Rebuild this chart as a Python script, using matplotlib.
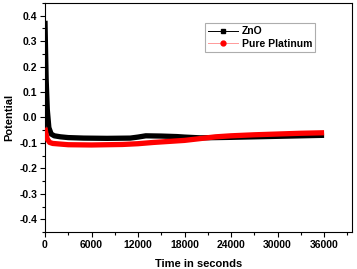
import matplotlib
matplotlib.use("Agg")
import matplotlib.pyplot as plt
from matplotlib.lines import Line2D
from matplotlib.ticker import MultipleLocator

plt.rcParams['font.family'] = ['Liberation Sans', 'DejaVu Sans']

zno_t = [0, 50, 150, 300, 500, 800, 1200, 2000, 3000, 5000, 8000, 11000, 12000, 13000,
         15000, 17000, 18000, 20000, 22000, 24000, 27000, 30000, 33000, 36000]
zno_v = [0.38, 0.30, 0.15, 0.03, -0.04, -0.065, -0.072, -0.076, -0.079, -0.081, -0.082, -0.081,
         -0.077, -0.072, -0.073, -0.075, -0.077, -0.080, -0.079, -0.078, -0.076, -0.074, -0.072, -0.070]
pt_t = [0, 100, 300, 600, 1000, 3000, 6000, 10000, 12000, 14000, 16000, 18000, 20000, 22000,
        24000, 27000, 30000, 33000, 36000]
pt_v = [-0.04, -0.06, -0.085, -0.098, -0.102, -0.107, -0.108, -0.106, -0.103, -0.098, -0.094, -0.090,
        -0.083, -0.076, -0.072, -0.068, -0.065, -0.062, -0.060]

fig = plt.figure(figsize=(3.57, 2.69), dpi=100)
ax = fig.add_axes([0.126, 0.1375, 0.86, 0.8515])

ax.plot(zno_t, zno_v, color='black', lw=3.8, solid_capstyle='butt', zorder=2)
ax.plot(pt_t, pt_v, color='red', lw=3.8, solid_capstyle='butt', zorder=3)

ax.set_xlim(0, 39600)
ax.set_ylim(-0.45, 0.45)
ax.xaxis.set_major_locator(MultipleLocator(6000))
ax.xaxis.set_minor_locator(MultipleLocator(3000))
ax.yaxis.set_major_locator(MultipleLocator(0.1))
ax.yaxis.set_minor_locator(MultipleLocator(0.05))
ax.tick_params(which='both', direction='out', top=False, right=False, labelsize=7.5, pad=2)
ax.tick_params(which='major', length=3.5, width=0.8)
ax.tick_params(which='minor', length=2, width=0.8)
for lab in ax.get_xticklabels() + ax.get_yticklabels():
    lab.set_fontweight('bold')
ax.set_yticklabels([f"{v:.1f}" for v in ax.get_yticks()], fontweight='bold')
for sp in ax.spines.values():
    sp.set_linewidth(0.8)

ax.set_xlabel('Time in seconds', fontsize=8, fontweight='bold', labelpad=7)
ax.set_ylabel('Potential', fontsize=8, fontweight='bold', labelpad=4)

handles = [Line2D([], [], color='black', lw=0.7, marker='s', markersize=3),
           Line2D([], [], color='#ff9999', lw=0.7, marker='o', markersize=3.5,
                  markerfacecolor='red', markeredgecolor='red')]
leg = ax.legend(handles, ['ZnO', 'Pure Platinum'], loc='upper left',
                bbox_to_anchor=(0.505, 0.935), prop={'weight': 'bold', 'size': 7.5},
                frameon=True, fancybox=False, edgecolor='#999999', handlelength=2.8,
                borderpad=0.3, labelspacing=0.25, handletextpad=0.4)
leg.get_frame().set_linewidth(0.8)

fig.savefig('out.png', dpi=100)
